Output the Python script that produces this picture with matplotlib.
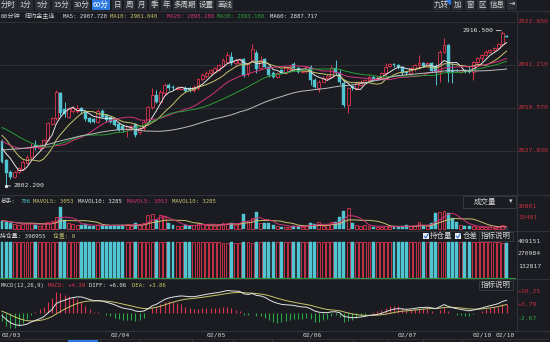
import numpy as np
import pandas as pd
import matplotlib
matplotlib.use("Agg")
import matplotlib.pyplot as plt
from matplotlib.patches import Rectangle
from matplotlib.transforms import blended_transform_factory

# 60-minute bars, NY gold continuous contract
prior_close = [
    2795, 2797, 2796, 2799, 2801, 2800, 2803, 2802, 2805, 2804,
    2806, 2808, 2807, 2809, 2811, 2810, 2812, 2814, 2813, 2815,
    2816, 2818, 2817, 2819, 2821, 2820, 2822, 2824, 2826, 2829,
    2840, 2852, 2860, 2866, 2870, 2872, 2869, 2873, 2868, 2862,
    2855, 2848, 2840, 2836, 2830, 2826, 2824, 2822, 2825, 2828,
    2835, 2842, 2850, 2855, 2852, 2845, 2832, 2826, 2836, 2836,
]

opens = [
    2835.0, 2821.0, 2812.5, 2809.0, 2812.7, 2815.0, 2819.0, 2823.5, 2832.0, 2830.0,
    2831.0, 2836.0, 2848.0, 2852.0, 2870.4, 2859.0, 2853.2, 2857.0, 2857.0, 2859.3,
    2857.0, 2852.0, 2851.2, 2849.5, 2857.0, 2854.4, 2853.0, 2850.5, 2847.5, 2846.0,
    2843.4, 2844.5, 2847.5, 2842.0, 2844.6, 2849.5, 2860.0, 2869.0, 2864.2, 2870.4,
    2876.5, 2875.3, 2873.5, 2873.5, 2874.5, 2874.0, 2872.8, 2874.0, 2880.6, 2883.2,
    2885.1, 2886.3, 2887.5, 2890.5, 2893.7, 2897.3, 2892.4, 2893.0, 2895.4, 2885.1,
    2894.9, 2900.0, 2889.0, 2895.4, 2889.5, 2885.1, 2882.2, 2887.5, 2885.6, 2888.0,
    2891.7, 2888.8, 2886.3, 2886.5, 2890.0, 2880.2, 2874.5, 2878.9, 2881.5, 2882.6,
    2888.8, 2885.1, 2877.7, 2861.8, 2875.5, 2874.0, 2876.5, 2879.0, 2880.2, 2882.2,
    2880.8, 2882.0, 2885.1, 2890.5, 2891.7, 2891.2, 2889.8, 2886.0, 2885.1, 2888.0,
    2891.0, 2892.9, 2890.5, 2892.4, 2890.5, 2886.3, 2901.0, 2905.9, 2887.5, 2887.8,
    2886.3, 2887.5, 2887.5, 2886.3, 2893.7, 2896.1, 2898.6, 2901.0, 2902.2, 2903.5,
    2906.3, 2912.5,
]
highs = [
    2836.5, 2822.0, 2814.0, 2813.5, 2816.0, 2821.0, 2825.0, 2833.5, 2836.0, 2833.0,
    2837.0, 2849.5, 2853.0, 2872.8, 2871.5, 2864.0, 2860.5, 2861.0, 2861.5, 2860.0,
    2858.0, 2853.0, 2852.5, 2858.5, 2858.5, 2855.5, 2854.0, 2851.5, 2848.5, 2847.5,
    2847.0, 2847.0, 2848.5, 2845.5, 2850.5, 2861.0, 2874.0, 2872.5, 2872.5, 2877.7,
    2878.0, 2876.5, 2875.5, 2876.0, 2875.5, 2875.0, 2876.5, 2881.5, 2885.0, 2886.5,
    2888.5, 2889.5, 2892.0, 2896.0, 2901.0, 2901.0, 2896.0, 2896.5, 2896.5, 2893.5,
    2906.7, 2902.5, 2897.5, 2896.5, 2890.5, 2886.5, 2886.0, 2888.5, 2889.5, 2891.0,
    2893.7, 2889.5, 2888.0, 2890.5, 2891.2, 2881.5, 2880.0, 2883.0, 2884.0, 2891.2,
    2894.9, 2888.5, 2880.2, 2875.0, 2876.5, 2878.5, 2880.0, 2881.0, 2883.5, 2883.0,
    2883.0, 2886.0, 2892.4, 2892.5, 2893.0, 2892.0, 2890.5, 2887.0, 2889.5, 2892.0,
    2898.6, 2893.5, 2893.7, 2893.5, 2892.0, 2902.5, 2910.8, 2907.0, 2892.4, 2888.5,
    2888.5, 2888.5, 2889.5, 2894.5, 2897.0, 2899.5, 2902.0, 2903.0, 2904.3, 2907.2,
    2916.5, 2913.0,
]
lows = [
    2819.0, 2802.2, 2807.5, 2808.0, 2812.0, 2814.0, 2818.0, 2822.0, 2828.5, 2829.0,
    2830.0, 2835.0, 2847.0, 2851.0, 2854.0, 2853.0, 2852.0, 2856.0, 2856.0, 2855.5,
    2850.0, 2848.3, 2848.5, 2848.5, 2852.0, 2849.5, 2848.5, 2846.0, 2842.5, 2842.0,
    2838.5, 2843.0, 2838.5, 2840.5, 2843.5, 2848.5, 2859.0, 2863.0, 2863.0, 2869.5,
    2873.0, 2873.0, 2872.5, 2872.5, 2871.0, 2871.5, 2871.5, 2873.0, 2879.5, 2882.0,
    2884.0, 2885.5, 2886.5, 2889.5, 2892.5, 2891.0, 2891.5, 2892.0, 2882.5, 2883.0,
    2893.5, 2885.0, 2888.0, 2889.0, 2882.5, 2881.5, 2881.4, 2884.5, 2884.5, 2887.0,
    2887.5, 2885.0, 2885.5, 2885.5, 2876.5, 2874.0, 2871.6, 2878.5, 2880.0, 2881.5,
    2884.0, 2877.5, 2860.5, 2855.6, 2873.0, 2873.0, 2875.5, 2878.0, 2879.5, 2880.5,
    2880.0, 2882.0, 2883.0, 2889.5, 2889.8, 2888.5, 2884.0, 2884.0, 2884.0, 2887.0,
    2888.0, 2889.5, 2890.5, 2886.0, 2876.5, 2879.0, 2900.0, 2879.0, 2877.7, 2886.0,
    2885.5, 2885.5, 2885.5, 2880.2, 2891.5, 2894.5, 2897.5, 2899.8, 2901.5, 2903.5,
    2905.5, 2911.5,
]
closes = [
    2820.0, 2811.5, 2809.0, 2812.5, 2815.2, 2820.0, 2823.8, 2831.0, 2830.0, 2831.5,
    2836.0, 2848.3, 2852.0, 2871.6, 2855.6, 2855.0, 2859.3, 2859.3, 2859.5, 2857.0,
    2851.2, 2849.5, 2849.5, 2857.0, 2853.2, 2850.7, 2849.5, 2847.0, 2843.4, 2843.4,
    2846.0, 2846.0, 2839.7, 2844.6, 2849.5, 2860.0, 2869.0, 2864.2, 2871.6, 2876.5,
    2874.0, 2874.0, 2874.5, 2875.3, 2872.0, 2872.8, 2875.3, 2880.6, 2883.8, 2885.6,
    2887.5, 2888.8, 2891.2, 2894.9, 2898.6, 2892.4, 2894.9, 2895.4, 2883.8, 2892.4,
    2902.7, 2888.0, 2895.0, 2890.0, 2883.8, 2882.6, 2885.1, 2885.6, 2888.8, 2890.0,
    2888.8, 2886.3, 2887.0, 2889.5, 2880.2, 2875.3, 2878.9, 2882.0, 2883.0, 2888.8,
    2885.1, 2878.9, 2861.8, 2874.0, 2874.0, 2877.7, 2878.9, 2880.2, 2882.6, 2881.2,
    2882.0, 2885.1, 2890.0, 2891.7, 2891.2, 2889.8, 2885.1, 2885.0, 2888.8, 2891.2,
    2892.9, 2890.5, 2892.4, 2887.0, 2886.3, 2901.0, 2905.9, 2885.1, 2886.3, 2887.0,
    2887.5, 2886.5, 2886.3, 2893.7, 2896.1, 2898.6, 2901.0, 2902.2, 2903.5, 2906.3,
    2914.5, 2912.1,
]
volume = [
    11800, 10450, 8180, 6810, 5900, 6810, 8180, 9090, 5900, 4540,
    8180, 10450, 11800, 17260, 30801, 12720, 8180, 6810, 5900, 5900,
    7270, 4540, 4540, 6360, 5450, 4540, 4540, 5450, 6360, 6360,
    6810, 4540, 8180, 5450, 8180, 19530, 20900, 12720, 19530, 17260,
    8180, 6360, 4540, 4540, 5450, 4540, 5450, 9090, 7270, 6360,
    6360, 4540, 5450, 8180, 9090, 9090, 6360, 8180, 20900, 10000,
    15000, 23600, 9090, 9090, 8180, 6360, 4540, 3630, 3630, 3630,
    4540, 4540, 3630, 4540, 8180, 6810, 9540, 4540, 5450, 10000,
    10450, 17260, 25440, 29500, 9090, 5900, 4540, 5450, 4540, 3630,
    3630, 3630, 4540, 3630, 2730, 3630, 4540, 5450, 4540, 4540,
    10000, 4540, 4540, 8180, 22700, 24080, 25440, 21800, 15000, 10450,
    5900, 4540, 3900, 4700, 3400, 2900, 2684, 2600, 2400, 3110,
    6450, 706,
]
open_interest = [
    402310, 403150, 404020, 403880, 403410, 402960, 402550, 402180, 402640, 402300,
    401950, 401420, 401080, 400550, 401320, 401760, 401490, 401220, 400980, 401350,
    401720, 402050, 402380, 402010, 402460, 402790, 403140, 403520, 403880, 404050,
    403710, 403460, 403900, 403620, 403280, 402710, 402150, 402580, 402090, 401640,
    402020, 402310, 402080, 401860, 402190, 402470, 402230, 401780, 401420, 401160,
    400890, 400620, 400310, 399970, 399650, 400120, 399840, 399560, 400480, 400150,
    399720, 400560, 400880, 401230, 401690, 402050, 401780, 402110, 401860, 401590,
    401970, 402330, 402080, 402390, 403150, 403620, 403280, 402990, 402710, 402340,
    402860, 403540, 405120, 404260, 404610, 404330, 404050, 403820, 403560, 403890,
    404120, 403850, 403460, 403180, 403490, 403810, 404140, 403870, 403590, 403320,
    402960, 403280, 403030, 403490, 404230, 405470, 406880, 409151, 408620, 408310,
    407880, 408150, 408470, 407650, 406930, 405880, 404720, 403510, 402260, 400940,
    399610, 398955,
]
date_pos = [2.2, 28.3, 51.3, 74.3, 97.1, 115.3, 120.6]
date_labels = ["02/03", "02/04", "02/05", "02/06", "02/07", "02/10", "02/10"]
price_ticks = [2922.850, 2891.210, 2859.570, 2827.930]
vol_ticks = [30801, 15401]
oi_ticks = [409151, 270984, 132817]
macd_ticks = [10.25, 3.79, -2.67]

BG = "#1a1c21"
LINE = "#2f3239"
RED = "#e0334e"
CYAN = "#52c5d3"
GREEN = "#2ca646"
WHITE = "#e4e4e4"
YELLOW = "#c8c46c"
MAGENTA = "#d2337a"
MA_GREEN = "#2c9c3a"
GRAY = "#bdbdbd"
LRED = "#c6303f"
TXT = "#d4d4d4"

plt.rcParams["font.family"] = ["DejaVu Sans Mono", "Noto Sans CJK SC", "DejaVu Sans"]
CJK = ["Noto Sans CJK SC", "DejaVu Sans"]

W, H = 550, 342
fig = plt.figure(figsize=(W / 100, H / 100), dpi=100, facecolor=BG)


def box(x0, y0, x1, y1):
    return [x0 / W, 1 - y1 / H, (x1 - x0) / W, (y1 - y0) / H]


n = len(closes)
x = np.arange(n)
o, h, l, c = map(np.array, (opens, highs, lows, closes))
up = c >= o

ax = fig.add_axes(box(0, 10, 516, 195))
ax_v = fig.add_axes(box(0, 195, 516, 231))
ax_oi = fig.add_axes(box(0, 231, 516, 279))
ax_m = fig.add_axes(box(0, 279, 516, 331))
for a in (ax, ax_v, ax_oi, ax_m):
    a.set_facecolor(BG)
    a.set_xlim(-0.48, 123.26)
    for s in a.spines.values():
        s.set_visible(False)
    a.set_xticks([])
    a.set_yticks([])
ax.set_ylim(2795.55, 2931.68)
ax_v.set_ylim(-2317, 46747)
ax_oi.set_ylim(-14775, 530760)
ax_m.set_ylim(-8.85, 16.03)

# price grid
for p in price_ticks:
    ax.axhline(p, color=LINE, lw=0.7, zorder=0)

# candles
bw = 0.7
ax.vlines(x[up], l[up], h[up], color=RED, lw=0.7, zorder=2)
ax.vlines(x[~up], l[~up], h[~up], color=CYAN, lw=0.7, zorder=2)
body = np.maximum(np.abs(c - o), 0.35)
ax.bar(x[up], body[up], bottom=np.minimum(o, c)[up], width=bw,
       facecolor=BG, edgecolor=RED, lw=0.6, zorder=3)
ax.bar(x[~up], body[~up], bottom=np.minimum(o, c)[~up], width=bw,
       facecolor=CYAN, edgecolor=CYAN, lw=0.3, zorder=3)

# moving averages (with the earlier bars as warm-up)
full = pd.Series(prior_close + closes, dtype=float)
ma_cols = {5: WHITE, 10: YELLOW, 20: MAGENTA, 30: MA_GREEN, 60: GRAY}
for p, col in ma_cols.items():
    ax.plot(x, full.rolling(p).mean().to_numpy()[-n:], color=col, lw=0.7, zorder=4)

ax.annotate("2916.500", xy=(120, 2916.5), xytext=(-9, 0), textcoords="offset pixels",
            ha="right", va="center", color=WHITE, fontsize=4.6,
            arrowprops=dict(arrowstyle="-", color=WHITE, lw=0.6, shrinkA=0, shrinkB=1))
ax.annotate("2802.200", xy=(1, 2802.2), xytext=(7, 0), textcoords="offset pixels",
            ha="left", va="center", color=WHITE, fontsize=4.6,
            arrowprops=dict(arrowstyle="-", color=WHITE, lw=0.6, shrinkA=0, shrinkB=0))
ax.plot([1], [2802.2], "o", color=WHITE, ms=1.3, zorder=5)

tr = blended_transform_factory(ax.transAxes, ax.transData)
for p in price_ticks:
    ax.text(518 / 516, p, f"{p:.3f}", transform=tr, ha="left", va="center",
            color=LRED, fontsize=4.6)

# volume
ax_v.bar(x[up], np.array(volume)[up], width=bw, facecolor=BG, edgecolor=RED, lw=0.6)
ax_v.bar(x[~up], np.array(volume)[~up], width=bw, facecolor=CYAN, edgecolor=CYAN, lw=0.3)
vs = pd.Series(volume, dtype=float)
ax_v.plot(x, vs.rolling(10, min_periods=1).mean(), color=YELLOW, lw=0.7)
ax_v.plot(x, vs.rolling(5, min_periods=1).mean(), color=MAGENTA, lw=0.7)
trv = blended_transform_factory(ax_v.transAxes, ax_v.transData)
for v in vol_ticks:
    ax_v.text(518 / 516, v, str(v), transform=trv, ha="left", va="center",
              color=LRED, fontsize=4.6)

# open interest
oi = np.array(open_interest)
ax_oi.bar(x[up], oi[up], width=bw, facecolor=BG, edgecolor=RED, lw=0.6)
ax_oi.bar(x[~up], oi[~up], width=bw, facecolor=CYAN, edgecolor=CYAN, lw=0.3)
ax_oi.axhline(0, color=MA_GREEN, lw=0.8)
tro = blended_transform_factory(ax_oi.transAxes, ax_oi.transData)
for v in oi_ticks:
    ax_oi.text(518 / 516, v, str(v), transform=tro, ha="left", va="center",
               color=TXT, fontsize=4.6)

# MACD(12,26,9)
ema12 = full.ewm(span=12, adjust=False).mean()
ema26 = full.ewm(span=26, adjust=False).mean()
diff = ema12 - ema26
dea = diff.ewm(span=9, adjust=False).mean()
hist = (2 * (diff - dea)).to_numpy()[-n:]
diff = diff.to_numpy()[-n:]
dea = dea.to_numpy()[-n:]
ax_m.vlines(x[hist >= 0], 0, hist[hist >= 0], color=RED, lw=0.8)
ax_m.vlines(x[hist < 0], 0, hist[hist < 0], color=GREEN, lw=0.8)
ax_m.plot(x, dea, color=YELLOW, lw=0.7)
ax_m.plot(x, diff, color=WHITE, lw=0.7)
trm = blended_transform_factory(ax_m.transAxes, ax_m.transData)
for v in macd_ticks:
    ax_m.text(518 / 516, v, f"{v:+.2f}", transform=trm, ha="left", va="center",
              color=LRED if v > 0 else GREEN, fontsize=4.6)
ax_m.set_xticks(date_pos)
ax_m.set_xticklabels(date_labels, fontsize=4.6, color=TXT)
ax_m.tick_params(axis="x", length=0, pad=1.2)

# frame, toolbar and captions
ui = fig.add_axes([0, 0, 1, 1], zorder=10)
ui.set_xlim(0, W)
ui.set_ylim(H, 0)
ui.axis("off")
ui.patch.set_alpha(0)
ui.hlines([10.5, 195, 231, 279, 331], 0, W, color=LINE, lw=0.8)
ui.vlines(516.5, 10.5, 331, color=LINE, lw=0.8)

left_btns = [("分时", 0, 17), ("1分", 18, 33), ("5分", 35, 50), ("15分", 52, 71),
             ("30分", 73, 90), ("60分", 92, 110), ("日", 112, 122), ("周", 124, 135),
             ("月", 137, 147), ("季", 149, 159), ("年", 161, 171), ("多周期", 173, 197),
             ("设置", 199, 214), ("画线", 216, 233)]
right_btns = [("九转", 433, 450), ("加", 452, 463), ("窗", 465, 475), ("区", 477, 487),
              ("信息", 489, 505), ("⇥", 507, 517)]
for label, x0, x1 in left_btns + right_btns:
    sel = label == "60分"
    ui.add_patch(Rectangle((x0, 0.3), x1 - x0, 9.2, facecolor="#2a78e0" if sel else "#2b2e35",
                           edgecolor="none"))
    ui.text((x0 + x1) / 2, 5, label, ha="center", va="center", fontsize=5.4,
            color="white" if sel else TXT, family=CJK)
ui.add_patch(plt.Polygon([[446, 0.3], [450, 0.3], [450, 4.3]], color="#2a78e0"))

hy = 16.5
ui.text(0.5, hy, "60分钟", color=TXT, fontsize=4.4, va="center")
ui.text(25, hy, "纽约金主连", color=TXT, fontsize=4.4, va="center", family=CJK)
for s, xx, col in [("MA5: 2907.720", 63, WHITE), ("MA10: 2901.040", 110, YELLOW),
                   ("MA20: 2895.280", 167, MAGENTA), ("MA30: 2893.180", 217, MA_GREEN),
                   ("MA60: 2887.717", 270, WHITE)]:
    ui.text(xx, hy, s, color=col, fontsize=4.1, va="center")

vy = 201.5
for s, xx, col in [("总手:", 0.5, TXT), ("706", 21, CYAN), ("MAVOL5: 3053", 33, YELLOW),
                   ("MAVOL10: 3285", 78, WHITE), ("MAVOL5: 3053", 127, MAGENTA),
                   ("MAVOL10: 3285", 172, YELLOW)]:
    ui.text(xx, vy, s, color=col, fontsize=4.1, va="center")

oy = 236
ui.text(0.5, oy, "持仓量: 398955", color=TXT, fontsize=4.2, va="center")
ui.text(53, oy, "仓差: 0", color=YELLOW, fontsize=4.2, va="center")

my = 285.5
for s, xx, col in [("MACD(12,26,9)", 0.5, TXT), ("MACD: +4.39", 48, RED),
                   ("DIFF: +6.06", 89, WHITE), ("DEA: +3.86", 132, YELLOW)]:
    ui.text(xx, my, s, color=col, fontsize=4.1, va="center")

# indicator selectors on the right
ui.add_patch(Rectangle((463, 195.5), 53, 12, facecolor=BG, edgecolor="#3b3e46", lw=0.6))
ui.text(485, 201.5, "成交量", ha="center", va="center", color=TXT, fontsize=5.4, family=CJK)
ui.text(511, 201.5, "▾", ha="center", va="center", color=TXT, fontsize=5, family=["DejaVu Sans"])
for bx in (423, 455):
    ui.add_patch(Rectangle((bx, 232.8), 6.2, 6.2, facecolor="#f0f0f0", edgecolor="none"))
    ui.plot([bx + 1.3, bx + 2.8, bx + 5.2], [236.2, 238.0, 233.9], color="#2a6fd6", lw=0.8)
ui.text(430, 236, "持仓量", va="center", color=TXT, fontsize=5.4, family=CJK)
ui.text(462.5, 236, "仓差", va="center", color=TXT, fontsize=5.4, family=CJK)
for y0 in (231.5, 280.5):
    ui.add_patch(Rectangle((479, y0), 34, 9.5, facecolor=BG, edgecolor="#3b3e46", lw=0.6))
    ui.text(496, y0 + 4.8, "指标说明", ha="center", va="center", color=TXT, fontsize=5.4,
            family=CJK)

# bottom tab strip
ui.hlines(338.5, 0, W, color=LINE, lw=0.6)
ui.add_patch(Rectangle((68, 339.5), 30, 3, facecolor="#2a78e0", edgecolor="none"))
ui.vlines([100, 140, 192, 233, 272, 308, 353, 387, 423, 462, 510], 338.5, 342,
          color="#3b3e46", lw=0.6)

fig.savefig("out.png", dpi=100, facecolor=BG)
